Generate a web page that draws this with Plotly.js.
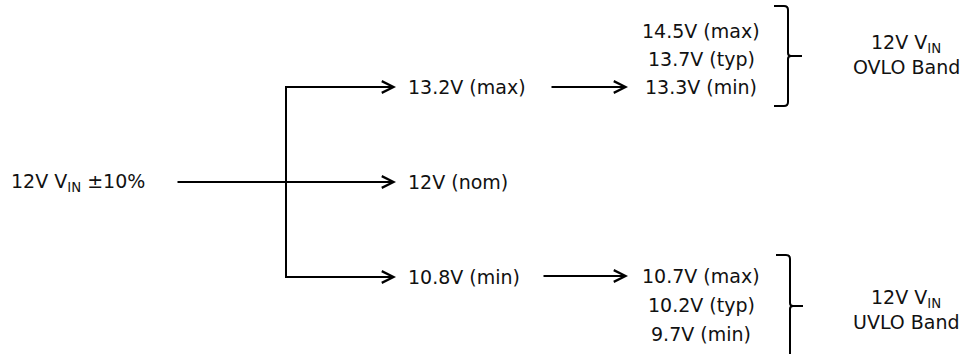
<!DOCTYPE html>
<html>
<head>
<meta charset="utf-8">
<script src="https://cdn.plot.ly/plotly-3.0.1.min.js"></script>
<style>html,body{margin:0;padding:0;background:#fff;}#chart{width:967px;height:354px;}</style>
</head>
<body>
<div id="chart"></div>
<script>
// ---- data (text content of the diagram) ----
const inputLabel = "12V V<sub>IN</sub> ±10%";
const branchLabels = ["13.2V (max)", "12V (nom)", "10.8V (min)"];
const ovloLabels = ["14.5V (max)", "13.7V (typ)", "13.3V (min)"];
const uvloLabels = ["10.7V (max)", "10.2V (typ)", "9.7V (min)"];
const bandTitle = "12V V<sub>IN</sub>";
const bandNames = ["OVLO Band", "UVLO Band"];

// ---- layout geometry (pixel space, axes map 1:1) ----
const W = 967, H = 354;
const FONT = {family: "DejaVu Sans, Open Sans, sans-serif", size: 19, color: "#111111"};
const inputX = 9, inputY = 182;
const stemStart = 176, splitX = 286, headX = 396;
const branchY = [87, 182, 277];
const branchTextX = 406;
const arrow2 = [[550, 628, 87], [542, 628, 276]];
const listCenterX = 701;
const ovloY = [31, 59, 87];
const uvloY = [276, 305, 334];
const bandX = 906;
const bandTitleY = [43, 298];
const bandNameY = [67, 322];

const annotations = [];
function text(t, x, y, anchor) {
  annotations.push({text: t, x: x, y: y, xref: "x", yref: "y", showarrow: false,
    xanchor: anchor, yanchor: "middle", font: FONT, align: "center"});
}
function arrow(x0, x1, y) {
  annotations.push({text: "", x: x1, y: y, ax: x0, ay: y, xref: "x", yref: "y",
    axref: "x", ayref: "y", showarrow: true, arrowhead: 5, arrowsize: 1.15,
    arrowwidth: 2, arrowcolor: "#000", standoff: 0, startstandoff: 0});
}

text(inputLabel, inputX, inputY, "left");
branchLabels.forEach((t, i) => text(t, branchTextX, branchY[i], "left"));
ovloLabels.forEach((t, i) => text(t, listCenterX, ovloY[i], "center"));
uvloLabels.forEach((t, i) => text(t, listCenterX, uvloY[i], "center"));
bandNames.forEach((t, i) => {
  text(bandTitle, bandX, bandTitleY[i], "center");
  text(t, bandX, bandNameY[i], "center");
});

arrow(stemStart, headX, branchY[1]);
arrow(splitX, headX, branchY[0]);
arrow(splitX, headX, branchY[2]);
arrow2.forEach(a => arrow(a[0], a[1], a[2]));

const line = {color: "#000", width: 2};
const shapes = [
  {type: "path", xref: "x", yref: "y", line: line,
   path: `M ${headX - 8} ${branchY[0]} L ${splitX} ${branchY[0]} L ${splitX} ${branchY[2]} L ${headX - 8} ${branchY[2]}`},
  // OVLO brace
  {type: "path", xref: "x", yref: "y", line: line,
   path: "M 774 6 L 784 6 Q 788 6 788 10 L 788 53 Q 788 56 791 56 L 802 56 M 791 56 Q 788 56 788 59 L 788 102 Q 788 106 784 106 L 774 106"},
  // UVLO brace
  {type: "path", xref: "x", yref: "y", line: line,
   path: "M 776 255 L 786 255 Q 790 255 790 259 L 790 303 Q 790 306 793 306 L 803 306 M 793 306 Q 790 306 790 309 L 790 362"}
];

const layout = {
  width: W, height: H,
  margin: {l: 0, r: 0, t: 0, b: 0, pad: 0},
  paper_bgcolor: "#fff", plot_bgcolor: "#fff",
  xaxis: {range: [0, W], visible: false, fixedrange: true},
  yaxis: {range: [H, 0], visible: false, fixedrange: true},
  showlegend: false,
  annotations: annotations,
  shapes: shapes
};

Plotly.newPlot("chart", [], layout, {staticPlot: true, displayModeBar: false});
</script>
</body>
</html>
